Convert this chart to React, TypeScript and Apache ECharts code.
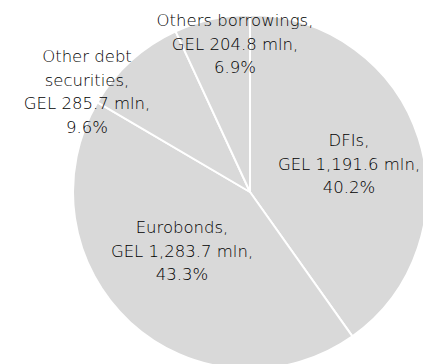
import React, { useEffect, useRef } from "react";
import * as echarts from "echarts";

const categories = ["DFIs", "Eurobonds", "Other debt\nsecurities", "Others borrowings"];
const values = [1191.6, 1283.7, 285.7, 204.8];

// label anchor points (px) for each slice label
const labelAnchors: [number, number][] = [
  [349, 164],
  [182, 251],
  [87, 92],
  [235, 44],
];

export default function App() {
  const ref = useRef<HTMLDivElement>(null);
  useEffect(() => {
    document.body.style.margin = "0";
    if (!ref.current) return;
    const chart = echarts.init(ref.current, null, { renderer: "svg" });
    chart.setOption({
      animation: false,
      backgroundColor: "#ffffff",
      series: [
        {
          type: "pie",
          center: [250, 192],
          radius: 177,
          startAngle: 90,
          clockwise: true,
          percentPrecision: 1,
          itemStyle: { color: "#d9d9d9", borderColor: "#ffffff", borderWidth: 2 },
          emphasis: { disabled: true },
          label: {
            show: true,
            position: "inside",
            color: "#000000",
            fontFamily: "DejaVu Sans",
            fontWeight: 200,
            fontSize: 16.5,
            lineHeight: 23.5,
            align: "center",
            verticalAlign: "middle",
            formatter: (p: any) =>
              `${p.name},\nGEL ${Number(p.value).toLocaleString("en-US", {
                minimumFractionDigits: 1,
                maximumFractionDigits: 1,
              })} mln,\n${p.percent.toFixed(1)}%`,
          },
          labelLine: { show: false },
          labelLayout: (params: any) => {
            const a = labelAnchors[params.dataIndex];
            return { x: a[0], y: a[1], align: "center", verticalAlign: "middle" };
          },
          data: categories.map((c, i) => ({ name: c, value: values[i] })),
        },
      ],
    });
    return () => chart.dispose();
  }, []);
  return <div ref={ref} style={{ width: 423, height: 364 }} />;
}
